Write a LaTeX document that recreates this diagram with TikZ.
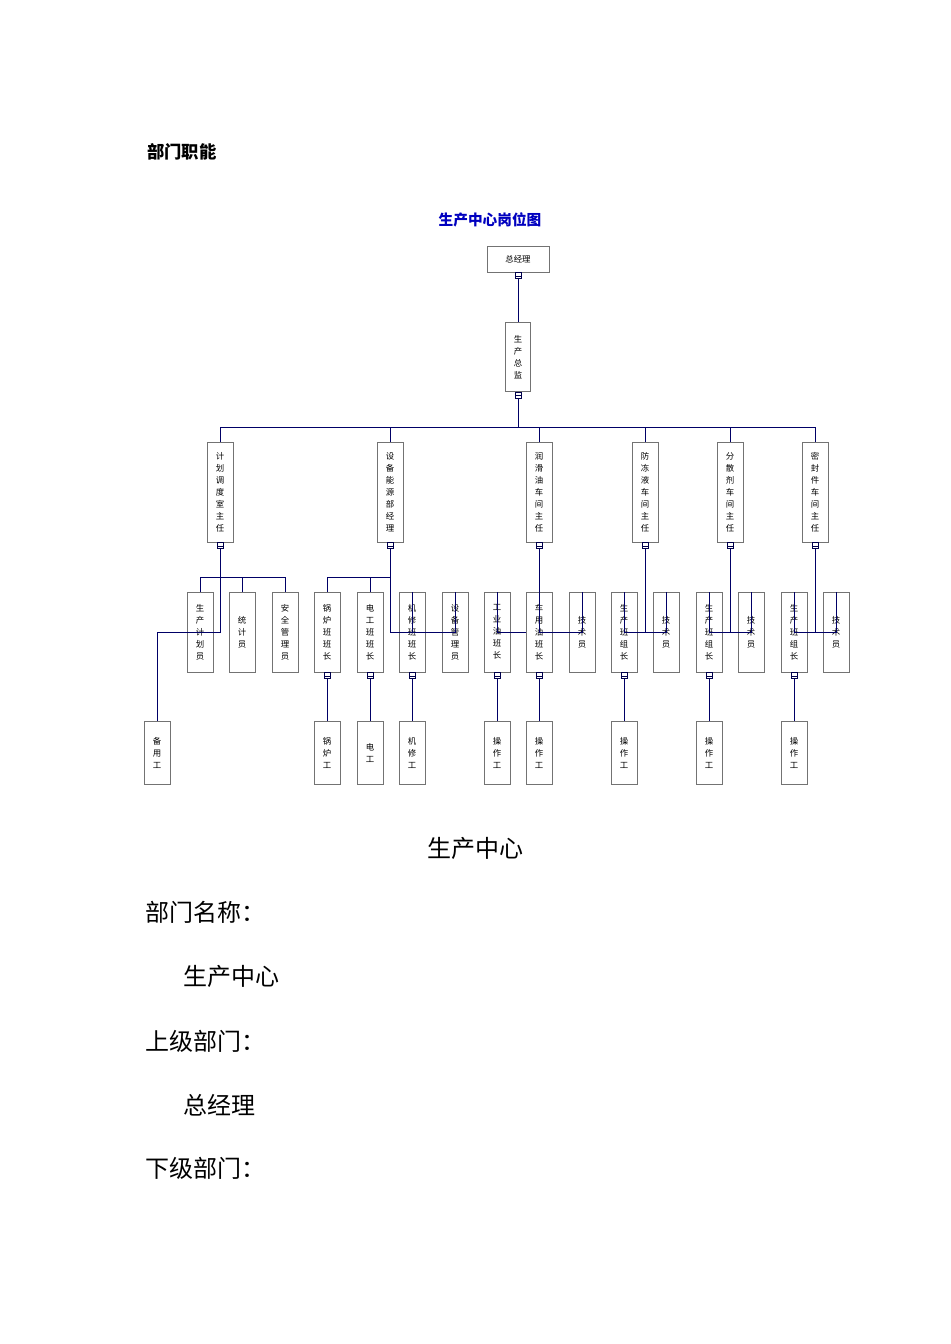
\documentclass[tikz,border=0pt]{standalone}
\usepackage{fontspec}
\newfontfamily\cjk{Noto Sans CJK SC}
\usetikzlibrary{calc}
\begin{document}
\begin{tikzpicture}[x=0.75pt,y=-0.75pt,
  box/.style={draw=black!55,line width=0.7pt,fill=white,inner sep=0pt,align=center,
     font=\cjk\fontsize{6.3}{9}\selectfont},
  lv2/.style={box,minimum width=19.5pt,minimum height=75pt},
  lv3/.style={box,minimum width=19.5pt,minimum height=60pt},
  lv4/.style={box,minimum width=19.5pt,minimum height=47pt},
  conn/.style={draw=black!70!blue,line width=0.5pt,fill=white,minimum width=4.5pt,minimum height=4.5pt,inner sep=0pt,anchor=north,
     path picture={\draw[black!70!blue,line width=0.4pt] (path picture bounding box.west) -- (path picture bounding box.east);}},
  link/.style={draw=black!60!blue,line width=0.7pt},
  bigtxt/.style={font=\cjk\fontsize{18}{20}\selectfont,anchor=west,inner sep=0pt}]
\fill[white] (0,0) rectangle (950,1344);
\node[anchor=west,inner sep=0pt,font=\cjk\bfseries\fontsize{13}{14}\selectfont] (h) at (147,152) {部门职能};
\node[inner sep=0pt,text=blue!75!black,font=\cjk\bfseries\fontsize{11}{12}\selectfont] (title) at (490,220) {生产中心岗位图};
% top
\node[box,minimum width=46.5pt,minimum height=19.5pt] (gm) at (518,259) {总经理};
\node[conn] (cgm) at (gm.south) {};
\node[box,minimum width=19pt,minimum height=52pt] (dir) at (518,357) {生\\产\\总\\监};
\node[conn] (cdir) at (dir.south) {};
\draw[link] (cgm.south) -- (dir.north);
% level 2
\coordinate (b2) at (0,427);
\foreach \n/\x/\t in {a/220/计\\划\\调\\度\\室\\主\\任, b/390/设\\备\\能\\源\\部\\经\\理, c/539/润\\滑\\油\\车\\间\\主\\任, d/645/防\\冻\\液\\车\\间\\主\\任, e/730/分\\散\\剂\\车\\间\\主\\任, f/815/密\\封\\件\\车\\间\\主\\任}{
  \node[lv2] (\n) at (\x,492) {\t};
  \node[conn] (c\n) at (\n.south) {};
  \draw[link] (cdir.south) |- (b2 -| \n) -- (\n.north);
}
% level 3
\coordinate (b3) at (0,577);
\foreach \p/\n/\x/\t in {a/a1/200/生\\产\\计\\划\\员, a/a2/242/统\\计\\员, a/a3/285/安\\全\\管\\理\\员,
  b/b1/327/锅\\炉\\班\\班\\长, b/b2/370/电\\工\\班\\班\\长, b/b3/412/机\\修\\班\\班\\长, b/b4/455/设\\备\\管\\理\\员,
  c/c1/497/工\\业\\油\\班\\长, c/c2/539/车\\用\\油\\班\\长, c/c3/582/技\\术\\员,
  d/d1/624/生\\产\\班\\组\\长, d/d2/666/技\\术\\员,
  e/e1/709/生\\产\\班\\组\\长, e/e2/751/技\\术\\员,
  f/f1/794/生\\产\\班\\组\\长, f/f2/836/技\\术\\员}{
  \node[lv3] (\n) at (\x,632) {\t};
  \draw[link] (c\p.south) |- (b3 -| \n) -- (\n.north);
}
% level 4
\node[lv4] (a0) at (157,753) {备\\用\\工};
\draw[link] (ca.south) |- (b3 -| a0) -- (a0.north);
\foreach \p/\n/\x/\t in {b1/b1x/327/锅\\炉\\工, b2/b2x/370/电\\工, b3/b3x/412/机\\修\\工,
  c1/c1x/497/操\\作\\工, c2/c2x/539/操\\作\\工, d1/d1x/624/操\\作\\工, e1/e1x/709/操\\作\\工, f1/f1x/794/操\\作\\工}{
  \node[conn] (k\p) at (\p.south) {};
  \node[lv4] (\n) at (\x,753) {\t};
  \draw[link] (k\p.south) -- (\n.north);
}
% text below
\node[inner sep=0pt,font=\cjk\fontsize{18}{20}\selectfont] (t1) at (475,848) {生产中心};
\node[bigtxt] (t2) at (145,912) {部门名称：};
\node[bigtxt] (t3) at (183,976) {生产中心};
\node[bigtxt] (t4) at (145,1041) {上级部门：};
\node[bigtxt] (t5) at (183,1105) {总经理};
\node[bigtxt] (t6) at (145,1168) {下级部门：};
\end{tikzpicture}
\end{document}
